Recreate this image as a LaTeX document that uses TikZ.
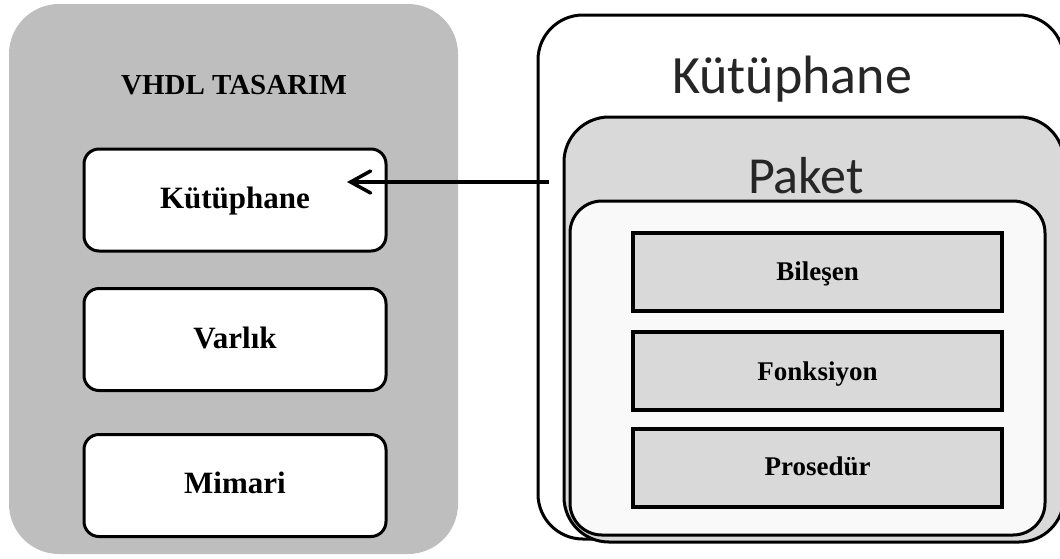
\documentclass[tikz,border=0pt]{standalone}
\usepackage{fontspec}
\setmainfont{Liberation Serif}
\newfontfamily\calfont{Carlito}
\usetikzlibrary{arrows.meta}
\definecolor{paneldark}{HTML}{BEBEBE}
\definecolor{pkgfill}{HTML}{D9D9D9}
\definecolor{innerfill}{HTML}{F9F9F9}
\definecolor{titlegray}{HTML}{262626}
\tikzset{
  panel/.style={fill=paneldark, draw=none, rounded corners=50pt, inner sep=0pt},
  unitbox/.style={draw=black, fill=white, line width=3pt, rounded corners=15pt,
    minimum width=302pt, minimum height=102pt, inner sep=0pt},
  libbox/.style={draw=black, line width=3pt, rounded corners=45pt, inner sep=0pt},
  itembox/.style={draw=black, fill=pkgfill, line width=3.5pt,
    minimum width=369pt, minimum height=78pt, inner sep=0pt},
  serifbold/.style={font=\fontsize{31pt}{36pt}\selectfont\bfseries, anchor=base, inner sep=0pt},
  itemtext/.style={font=\fontsize{27pt}{32pt}\selectfont\bfseries, anchor=base, inner sep=0pt},
  sanstitle/.style={font=\calfont\fontsize{54pt}{60pt}\selectfont, text=titlegray, anchor=base, inner sep=0pt},
  arr/.style={-{Straight Barb[length=20pt,width=22pt,line cap=round]}, line width=3.5pt}
}
\begin{document}
\begin{tikzpicture}[x=1pt, y=-1pt]
  \useasboundingbox (0,0) rectangle (1060,558);
  \clip (0,0) rectangle (1060,558);

  % design side
  \node[panel, minimum width=449pt, minimum height=550pt] (design) at (233.5,279) {};
  \node[serifbold, font=\fontsize{29pt}{34pt}\selectfont\bfseries] (designtitle) at (234,94) {VHDL TASARIM};
  \node[unitbox] (lib) at (235,200) {};
  \node[unitbox] (ent) at (235,339.5) {};
  \node[unitbox] (arch) at (235,485.5) {};
  \node[serifbold] (libtext) at (235,208) {Kütüphane};
  \node[serifbold] (enttext) at (235,348) {Varlık};
  \node[serifbold] (archtext) at (235,493) {Mimari};

  % library side
  \node[libbox, fill=white, minimum width=526pt, minimum height=524pt] (library) at (801,277) {};
  \node[libbox, fill=pkgfill, minimum width=500pt, minimum height=425pt] (package) at (814,329.5) {};
  \node[libbox, fill=innerfill, rounded corners=32pt, minimum width=475pt, minimum height=334pt] (content) at (807.5,368) {};
  \node[sanstitle] (librarytitle) at (792,93) {Kütüphane};
  \node[sanstitle, font=\calfont\fontsize{52pt}{58pt}\selectfont] (packagetitle) at (806,193) {Paket};

  \node[itembox] (comp) at (817.5,272) {};
  \node[itembox] (func) at (817.5,371) {};
  \node[itembox] (proc) at (817.5,468) {};
  \node[itemtext] (comptext) at (817.5,280) {Bileşen};
  \node[itemtext] (functext) at (817.5,380) {Fonksiyon};
  \node[itemtext] (proctext) at (817.5,475) {Prosedür};

  % link from the library to the design unit
  \coordinate (tip) at (347,182);
  \draw[arr] ([xshift=12pt]library.west |- tip) -- (tip);
\end{tikzpicture}
\end{document}
